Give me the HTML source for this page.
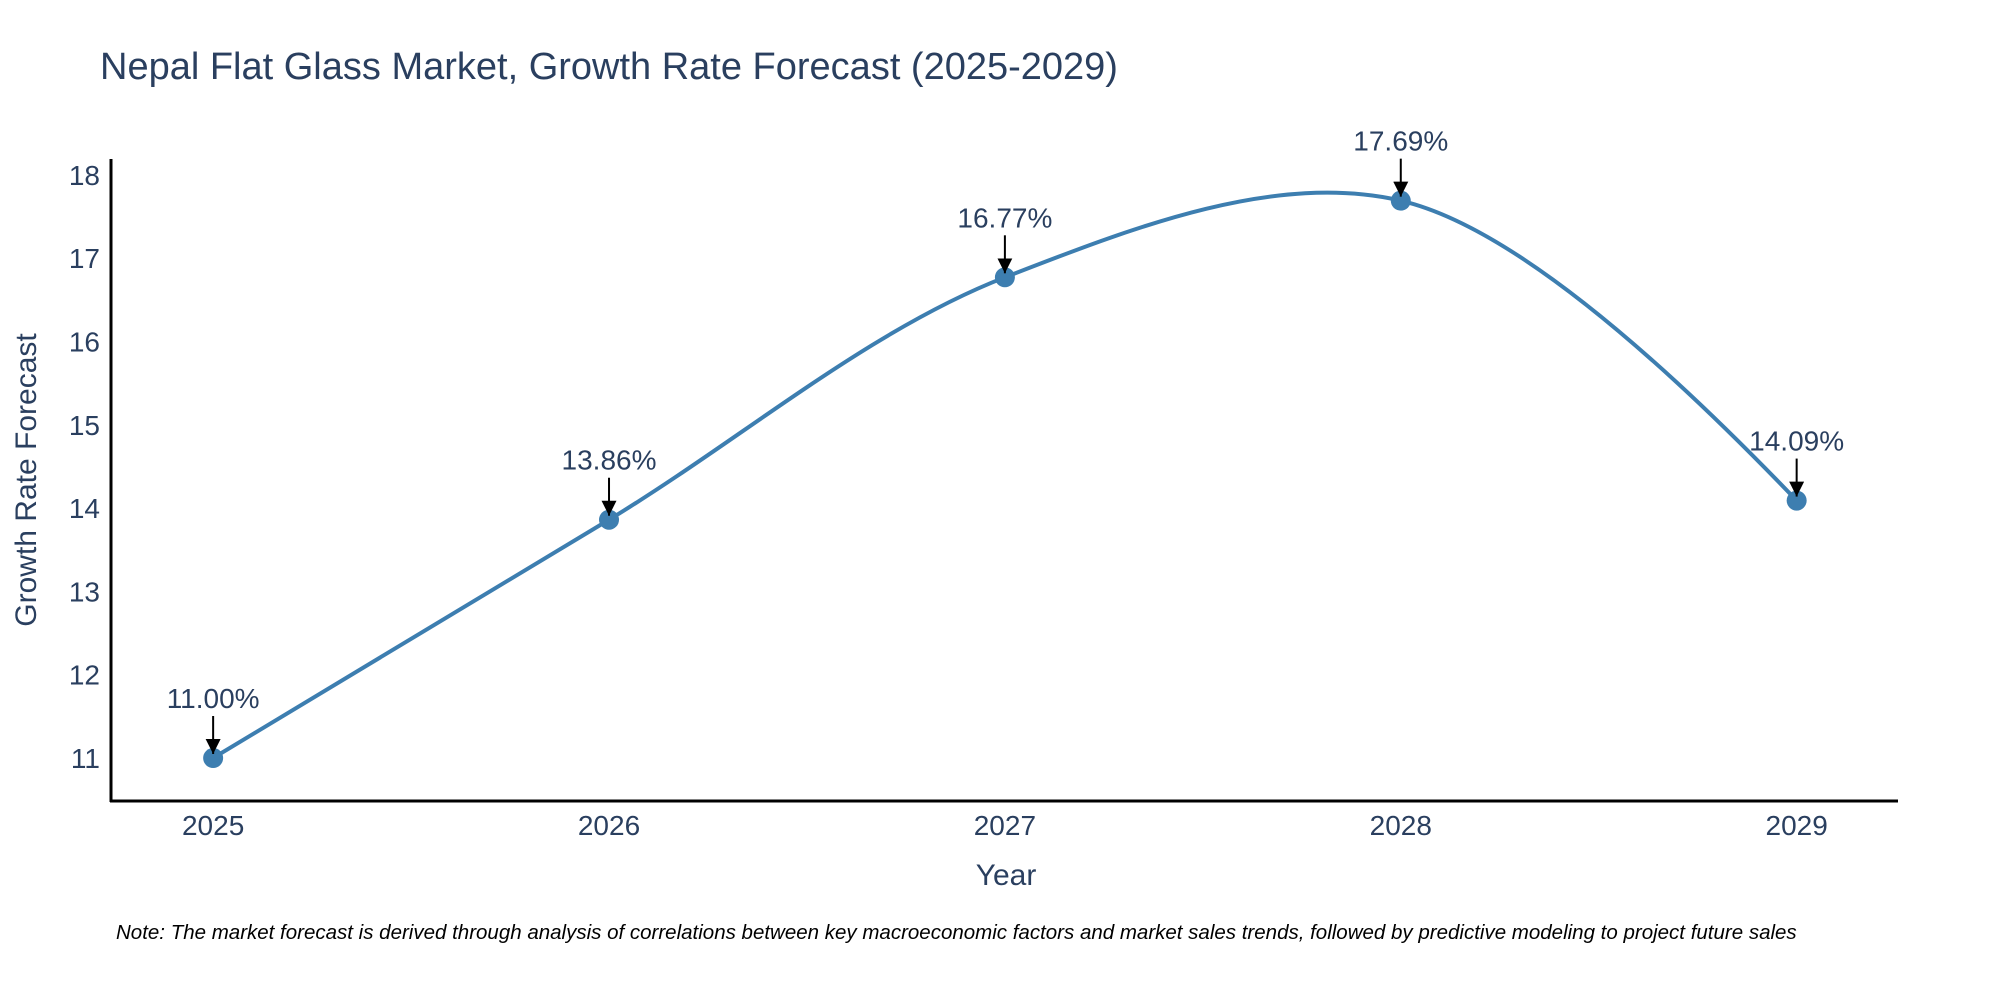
<!DOCTYPE html>
<html><head><meta charset="utf-8"><style>
html,body{margin:0;padding:0;background:#fff;}
svg{display:block;font-family:"Liberation Sans","DejaVu Sans",sans-serif;}
</style></head><body>
<svg id="chart" width="2000" height="1000" viewBox="0 0 2000 1000" xmlns="http://www.w3.org/2000/svg">
<defs><marker id="ah" viewBox="0 0 10 10" refX="5" refY="10" markerWidth="15" markerHeight="15" markerUnits="userSpaceOnUse" orient="0"><path d="M0,0 L10,0 L5,10 z" fill="#000"/></marker></defs>
<text x="100" y="79" font-size="38" fill="#2a3f5f">Nepal Flat Glass Market, Growth Rate Forecast (2025-2029)</text>
<g id="plot"></g>
<line x1="111" y1="159" x2="111" y2="802" stroke="#000" stroke-width="3"/>
<line x1="110" y1="801" x2="1898" y2="801" stroke="#000" stroke-width="3"/>
<text x="1006" y="885" font-size="30" fill="#2a3f5f" text-anchor="middle">Year</text>
<text transform="translate(36,480) rotate(-90)" font-size="30" fill="#2a3f5f" text-anchor="middle">Growth Rate Forecast</text>
<text x="116" y="939" font-size="20.5" font-style="italic" fill="#000">Note: The market forecast is derived through analysis of correlations between key macroeconomic factors and market sales trends, followed by predictive modeling to project future sales</text>
</svg>
<script>
const years = [2025, 2026, 2027, 2028, 2029];
const growthRates = [11.00, 13.86, 16.77, 17.69, 14.09];
const valueLabels = ["11.00%", "13.86%", "16.77%", "17.69%", "14.09%"];
const yTickValues = [11, 12, 13, 14, 15, 16, 17, 18];

const NS = "http://www.w3.org/2000/svg";
const X0 = 111, X1 = 1898, Y0 = 801, Y1 = 159;
const xMin = 2024.742, xMax = 2029.256, yMin = 10.484, yMax = 18.19;
function xs(v){ return X0 + (v - xMin) / (xMax - xMin) * (X1 - X0); }
function ys(v){ return Y0 - (v - yMin) / (yMax - yMin) * (Y0 - Y1); }
const svg = document.getElementById('chart');
const plot = document.getElementById('plot');
function mk(tag, attrs){ const e = document.createElementNS(NS, tag); for (const k in attrs) e.setAttribute(k, attrs[k]); return e; }

yTickValues.forEach(v => {
  const t = mk('text', {x: X0 - 11, y: ys(v) + 10, 'font-size': 28, fill: '#2a3f5f', 'text-anchor': 'end'});
  
  
  t.textContent = v; svg.appendChild(t);
});
years.forEach(v => {
  const t = mk('text', {x: xs(v), y: Y0 + 34, 'font-size': 28, fill: '#2a3f5f', 'text-anchor': 'middle'});
  
  
  t.textContent = v; svg.appendChild(t);
});

const pts = years.map((y, i) => [xs(y), ys(growthRates[i])]);
const sm = 1.0;
function ctrl(p0, p1, p2){
  const d1x = p0[0]-p1[0], d1y = p0[1]-p1[1], d2x = p2[0]-p1[0], d2y = p2[1]-p1[1];
  const d1a = Math.pow(d1x*d1x + d1y*d1y, 0.25), d2a = Math.pow(d2x*d2x + d2y*d2y, 0.25);
  const nx = (d2a*d2a*d1x - d1a*d1a*d2x) * sm, ny = (d2a*d2a*d1y - d1a*d1a*d2y) * sm;
  const den1 = 3*d2a*(d1a+d2a), den2 = 3*d1a*(d1a+d2a);
  return [[p1[0] + nx/den1, p1[1] + ny/den1], [p1[0] - nx/den2, p1[1] - ny/den2]];
}
const cps = [];
for (let i = 1; i < pts.length - 1; i++) cps.push(ctrl(pts[i-1], pts[i], pts[i+1]));
let d = 'M' + pts[0] + 'Q' + cps[0][0] + ' ' + pts[1];
for (let i = 2; i < pts.length - 1; i++) d += 'C' + cps[i-2][1] + ' ' + cps[i-1][0] + ' ' + pts[i];
d += 'Q' + cps[cps.length-1][1] + ' ' + pts[pts.length-1];
const line = mk('path', {d: d, fill: 'none', stroke: '#3d7eb0', 'stroke-width': 4});


plot.appendChild(line);

pts.forEach((p, i) => {
  const c = mk('circle', {cx: p[0], cy: p[1], r: 10, fill: '#3d7eb0'});
  
  
  plot.appendChild(c);
  const a = mk('line', {x1: p[0], y1: p[1] - 42, x2: p[0], y2: p[1] - 4, stroke: '#000', 'stroke-width': 2, 'marker-end': 'url(#ah)'});
  
  
  plot.appendChild(a);
  const t = mk('text', {x: p[0], y: p[1] - 50, 'font-size': 28, fill: '#2a3f5f', 'text-anchor': 'middle'});
  
  
  t.textContent = valueLabels[i];
  plot.appendChild(t);
});
</script>
</body></html>
